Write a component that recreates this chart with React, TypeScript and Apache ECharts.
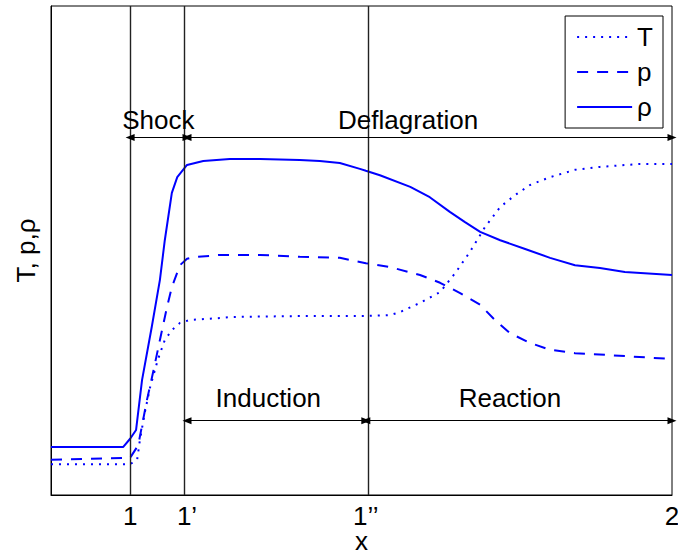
import React, { useEffect, useRef } from "react";
import * as echarts from "echarts";

// x positions of the profile (abstract units, 1 = shock front, 2 = right boundary)
const rhoData: [number, number][] = [
  [0.854, 9.8], [0.987, 9.8], [1.0, 11.5], [1.011, 13.3], [1.022, 23.5], [1.04, 34.4],
  [1.055, 44.0], [1.064, 52.1], [1.077, 61.8], [1.087, 65.0], [1.105, 67.5], [1.135, 68.3],
  [1.184, 68.7], [1.24, 68.7], [1.313, 68.5], [1.35, 68.3], [1.387, 67.9], [1.424, 66.7],
  [1.435, 66.3], [1.461, 65.4], [1.517, 63.0], [1.553, 60.9], [1.59, 57.9], [1.618, 55.8],
  [1.646, 53.8], [1.683, 52.1], [1.729, 50.3], [1.775, 48.5], [1.821, 47.0], [1.867, 46.4],
  [1.913, 45.6], [2.0, 45.0],
];
const pData: [number, number][] = [
  [0.854, 7.2], [1.0, 7.6], [1.015, 10.2], [1.031, 19.4], [1.042, 24.9], [1.055, 31.7],
  [1.068, 38.4], [1.077, 42.5], [1.092, 47.0], [1.105, 48.3], [1.12, 48.7], [1.147, 48.9],
  [1.166, 49.1], [1.24, 49.1], [1.313, 48.7], [1.387, 48.5], [1.435, 47.4], [1.48, 46.6],
  [1.535, 45.0], [1.572, 43.4], [1.609, 41.3], [1.646, 38.9], [1.673, 35.8], [1.701, 33.1],
  [1.738, 31.1], [1.775, 29.7], [1.821, 29.0], [1.886, 28.6], [2.0, 27.8],
];
const tData: [number, number][] = [
  [0.854, 6.3], [1.0, 6.3], [1.013, 7.2], [1.018, 11.2], [1.027, 16.8], [1.037, 22.1],
  [1.051, 27.6], [1.064, 31.7], [1.077, 33.7], [1.092, 35.2], [1.111, 35.8], [1.166, 36.2],
  [1.184, 36.4], [1.313, 36.6], [1.435, 36.6], [1.48, 36.8], [1.498, 37.4], [1.535, 39.3],
  [1.572, 41.5], [1.6, 45.4], [1.627, 49.7], [1.655, 54.8], [1.683, 58.9], [1.71, 61.3],
  [1.738, 63.4], [1.775, 65.0], [1.821, 66.5], [1.867, 67.1], [1.941, 67.7], [2.0, 67.7],
];

const xMin = 0.854;
const xMax = 2;
const xTicks = [1, 1.105, 1.435, 2];
const xTickLabels = ["1", "1\u2019", "1\u2019\u2019", "2"];
const guideLines = [1, 1.105, 1.435];

// arrows: [start x, end x, y]
const arrows: [number, number, number][] = [
  [1, 1.105, 73.1],
  [1.105, 2, 73.1],
  [1.105, 1.435, 15.2],
  [1.435, 2, 15.2],
];
// region labels: [x, y, text]
const regionLabels: [number, number, string][] = [
  [1.052, 76.6, "Shock"],
  [1.513, 76.6, "Deflagration"],
  [1.255, 19.9, "Induction"],
  [1.701, 19.9, "Reaction"],
];

const FONT = "'Liberation Sans', Arial, Helvetica, sans-serif";
const BLUE = "#0000ff";

export default function App() {
  const ref = useRef<HTMLDivElement>(null);
  useEffect(() => {
    if (!ref.current) return;
    const chart = echarts.init(ref.current, undefined, { renderer: "svg" });
    chart.setOption({
      animation: false,
      backgroundColor: "#fff",
      textStyle: { fontFamily: FONT },
      grid: {
        left: 51,
        right: 6,
        top: 6,
        bottom: 59,
        show: true,
        containLabel: false,
        outerBoundsMode: "none",
        borderColor: "#000",
        borderWidth: 1,
        backgroundColor: "transparent",
      },
      legend: {
        data: ["T", "p", "\u03c1"],
        orient: "vertical",
        right: 15,
        top: 16,
        padding: [8, 10, 8, 11],
        itemGap: 9,
        itemWidth: 55,
        itemHeight: 14,
        borderColor: "#000",
        borderWidth: 1,
        backgroundColor: "#fff",
        itemStyle: { opacity: 0 },
        textStyle: { fontFamily: FONT, fontSize: 26, color: "#000", lineHeight: 26 },
      },
      xAxis: {
        type: "value",
        min: xMin,
        max: xMax,
        name: "x",
        nameLocation: "middle",
        nameGap: 36,
        nameMoveOverlap: false,
        nameTextStyle: { fontFamily: FONT, fontSize: 26, lineHeight: 20, color: "#000" },
        axisLine: { show: true, lineStyle: { color: "#000", width: 1 } },
        axisTick: { show: false },
        splitLine: { show: false },
        axisLabel: {
          customValues: xTicks,
          fontFamily: FONT,
          fontSize: 26,
          color: "#000",
          margin: 8,
          showMinLabel: true,
          showMaxLabel: true,
          hideOverlap: false,
          formatter: (v: number) => {
            let best = 0;
            for (let i = 1; i < xTicks.length; i++) {
              if (Math.abs(xTicks[i] - v) < Math.abs(xTicks[best] - v)) best = i;
            }
            return xTickLabels[best];
          },
        },
      },
      yAxis: {
        type: "value",
        min: 0,
        max: 100,
        name: "T, p,\u03c1",
        nameLocation: "middle",
        nameGap: 12,
        nameMoveOverlap: false,
        nameTextStyle: { fontFamily: FONT, fontSize: 26, color: "#000" },
        axisLine: { show: true, lineStyle: { color: "#000", width: 1 } },
        axisTick: { show: false },
        axisLabel: { show: false },
        splitLine: { show: false },
      },
      series: [
        {
          name: "T",
          type: "line",
          data: tData,
          symbol: "none",
          showSymbol: false,
          color: BLUE,
          lineStyle: { color: BLUE, width: 2, type: [2, 6] },
          markLine: {
            silent: true,
            symbol: ["none", "none"],
            label: { show: false },
            lineStyle: { color: "#222", width: 1.4, type: "solid" },
            data: guideLines.map((x) => ({ xAxis: x })),
          },
        },
        {
          name: "p",
          type: "line",
          data: pData,
          symbol: "none",
          showSymbol: false,
          color: BLUE,
          lineStyle: { color: BLUE, width: 2, type: [11, 9] },
          markLine: {
            silent: true,
            symbol: ["triangle", "triangle"],
            symbolSize: [7, 9],
            label: { show: false },
            itemStyle: { color: "#000" },
            lineStyle: { color: "#000", width: 1.2, type: "solid" },
            data: arrows.map(([x1, x2, y]) => [
              { coord: [x1, y] },
              { coord: [x2, y] },
            ]),
          },
        },
        {
          name: "\u03c1",
          type: "line",
          data: rhoData,
          symbol: "none",
          showSymbol: false,
          color: BLUE,
          lineStyle: { color: BLUE, width: 2, type: "solid" },
          markPoint: {
            silent: true,
            symbol: "circle",
            symbolSize: 0,
            itemStyle: { color: "transparent" },
            label: {
              show: true,
              position: "inside",
              formatter: "{b}",
              fontFamily: FONT,
              fontSize: 26,
              color: "#000",
            },
            data: regionLabels.map(([x, y, t]) => ({ name: t, coord: [x, y] })),
          },
        },
      ],
    });
    return () => chart.dispose();
  }, []);
  return (
    <div
      ref={ref}
      style={{ position: "fixed", left: 0, top: 0, width: 678, height: 554 }}
    />
  );
}
